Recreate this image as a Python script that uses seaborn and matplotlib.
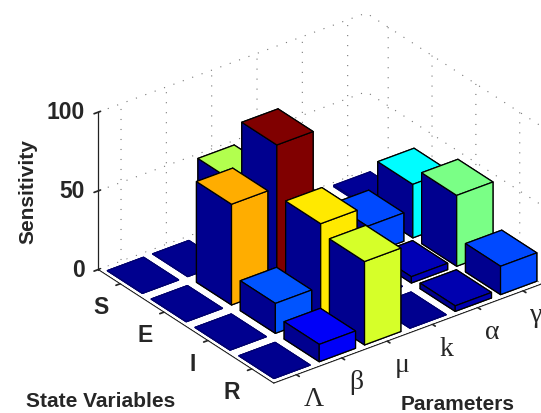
import numpy as np
import seaborn as sns
from matplotlib import pyplot as plt
from matplotlib.colors import LinearSegmentedColormap

parameters = ['Λ', 'β', 'μ', 'k', 'α', 'γ']
states = ['S', 'E', 'I', 'R']
# sensitivity per parameter, one list per state variable
row_s = [0, 0, 50, 0, 0, 1]
row_e = [0, 64, 91, 0, 18, 34]
row_i = [0, 19, 59, 0, 4, 45]
row_r = [0, 11, 53, 0, 3.5, 18]
z_ticks = [0, 50, 100]

sns.set_theme(style='white', rc={'grid.linestyle': (0, (1, 8)), 'grid.color': '#777777', 'grid.linewidth': 0.8,
                                 'axes.edgecolor': '#222222', 'axes.linewidth': 0.9})
plt.rcParams['font.family'] = ['Liberation Sans', 'DejaVu Sans']

# matlab flavour of jet
jet = LinearSegmentedColormap.from_list('mjet', [(0, '#00008f'), (0.125, '#0000ff'), (0.375, '#00ffff'),
                                                 (0.625, '#ffff00'), (0.875, '#ff0000'), (1, '#800000')])
navy = jet(0.0)

fig = plt.figure(figsize=(5.41, 4.14), dpi=100)
W = 700
ax = fig.add_axes([(320 - 0.5135 * W) / 541, (215 - 0.5135 * W) / 414, W / 541, W / 414],
                  projection='3d', proj_type='ortho')
ax.computed_zorder = False
ax.view_init(elev=29.3, azim=-127.1)
ax.set_box_aspect((335, 290, 180), zoom=0.665)

# floor stays white between the bars, the grid only shows on the walls
ax.bar3d(0.52, 0.52, 0, 5.87, 3.96, 0, color='white', shade=False, edgecolor='none', zorder=1)

values = np.array([row_s, row_e, row_i, row_r], dtype=float)
top = values.max()
order = 0
# back to front so the bars cover each other properly
for j in range(len(states)):
    for i in range(len(parameters) - 1, -1, -1):
        h = values[j, i]
        c = jet(h / top)
        edge = 'black' if h > 2 else '#000070'
        # bottom, top, -y, +y, -x, +x
        ax.bar3d(i + 1 - 0.4, j + 1 - 0.4, 0, 0.8, 0.8, h, color=[navy, c, navy, c, navy, navy],
                 shade=False, edgecolor=edge, linewidth=0.9, zorder=10 + order)
        order += 1

ax.set_xlim(0.5, 6.41)
ax.set_ylim(4.5, 0.5)
ax.set_zlim(0, 100)

ax.set_xticks(range(1, len(parameters) + 1))
ax.set_yticks(range(1, len(states) + 1))
ax.set_zticks(z_ticks)
ax.set_xticklabels(parameters, fontfamily='Liberation Serif', fontsize=20, ha='left', va='top')
ax.set_yticklabels(states, fontweight='bold', fontsize=16.5, ha='right')
ax.set_zticklabels(z_ticks, fontweight='bold', fontsize=16.5, ha='right', va='center')
ax.tick_params(axis='x', pad=3)
ax.tick_params(axis='y', pad=3.5)
ax.tick_params(axis='z', pad=0)
ax.grid(True)
for axis in (ax.xaxis, ax.yaxis, ax.zaxis):
    axis.set_pane_color((1, 1, 1, 0))
    axis.pane.set_edgecolor('none')

fig.text(28 / 541, 1 - 192 / 414, 'Sensitivity', rotation=90, fontsize=15, fontweight='bold', ha='center', va='center')
fig.text(101 / 541, 1 - 402 / 414, 'State Variables', fontsize=15, fontweight='bold', ha='center', va='center')
fig.text(458 / 541, 1 - 405 / 414, 'Parameters', fontsize=15, fontweight='bold', ha='center', va='center')

fig.savefig('out.png', dpi=100)
